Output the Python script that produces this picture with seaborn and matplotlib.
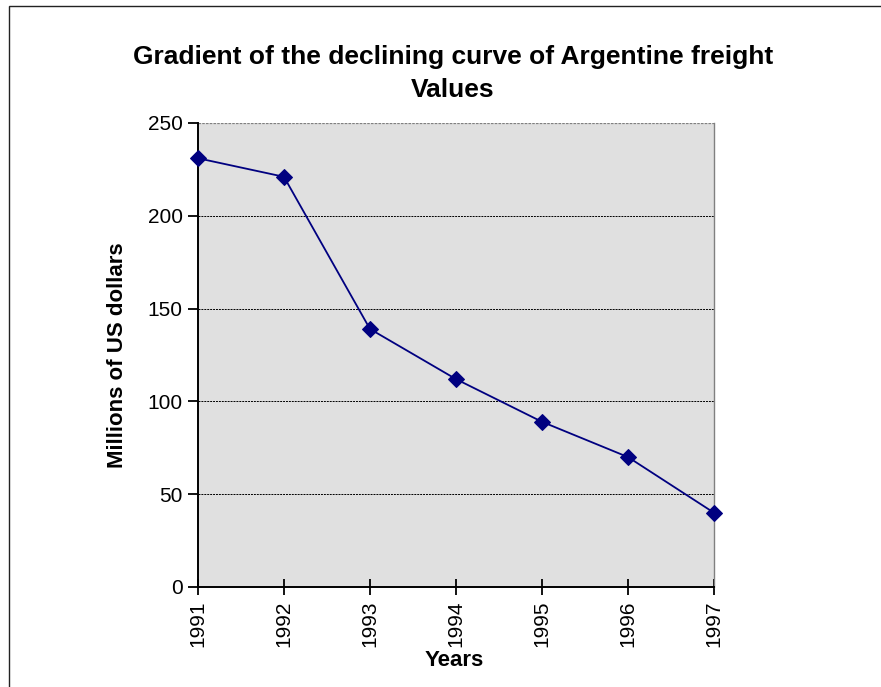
import pandas as pd
import matplotlib.pyplot as plt
import seaborn as sns
from matplotlib.patches import Rectangle

# Data
years = [1991, 1992, 1993, 1994, 1995, 1996, 1997]
freight = [231, 221, 139, 112, 89, 70, 40]
title_lines = ['Gradient of the declining curve of Argentine freight', 'Values']

df = pd.DataFrame({'Year': years, 'Freight': freight})

sns.set_style('white')
plt.rcParams['font.family'] = ['Liberation Sans', 'DejaVu Sans']
for key in ['text.color', 'axes.labelcolor', 'xtick.color', 'ytick.color']:
    plt.rcParams[key] = 'black'

fig = plt.figure(figsize=(8.81, 6.87), dpi=100)
ax = fig.add_axes([0.2247, 0.1456, 0.5857, 0.6754])
ax.set_facecolor('#e0e0e0')

sns.lineplot(data=df, x='Year', y='Freight', ax=ax, color='#000080',
             linewidth=1.3, marker='D', markersize=8.5,
             markeredgecolor='#000080', markerfacecolor='#000080',
             zorder=3, clip_on=False)

ax.set_xlim(1991, 1997)
ax.set_ylim(0, 250)
ax.set_xticks(years)
ax.set_xticklabels([str(y) for y in years], rotation=90, fontsize=15)
ax.set_yticks([0, 50, 100, 150, 200, 250])
ax.tick_params(axis='y', left=True, labelsize=15, direction='out', length=7,
               width=1.3, color='black', pad=4)
ax.tick_params(axis='x', bottom=True, direction='inout', length=11,
               width=1.3, color='black', pad=4)

for v in [50, 100, 150, 200]:
    ax.axhline(v, color='black', linestyle=(0, (2, 1)), linewidth=0.7, zorder=1)
ax.axhline(250, color='#808080', linestyle=(0, (2, 1)), linewidth=0.9, zorder=1)

for side in ['left', 'bottom']:
    ax.spines[side].set_color('black')
    ax.spines[side].set_linewidth(1.4)
ax.spines['right'].set_color('#808080')
ax.spines['right'].set_linewidth(1.0)
ax.spines['top'].set_visible(False)

ax.set_xlabel('Years', fontsize=16, fontweight='bold')
ax.set_ylabel('Millions of US dollars', fontsize=16, fontweight='bold')
ax.xaxis.set_label_coords(0.497, -0.136)
ax.yaxis.set_label_coords(-0.136, 0.5)

fig.text(0.514, 1 - 57 / 687, title_lines[0], ha='center', va='center',
         fontsize=19, fontweight='bold')
fig.text(0.514, 1 - 90 / 687, title_lines[1], ha='center', va='center',
         fontsize=19, fontweight='bold')

# outer chart border
fig.patches.append(Rectangle((9 / 881, -0.01), 1.0, 1 - 6 / 687 + 0.01,
                             transform=fig.transFigure, fill=False,
                             edgecolor='#222222', linewidth=1.0))

plt.savefig('out.png', dpi=100)
